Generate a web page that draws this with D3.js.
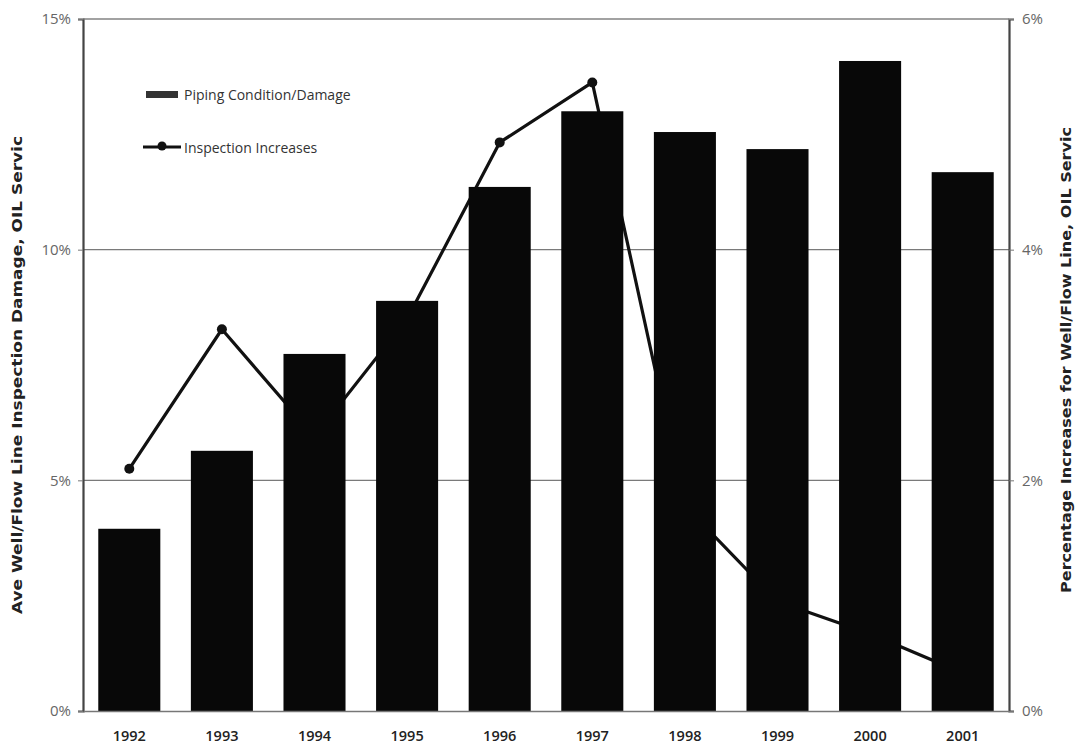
<!DOCTYPE html>
<html>
<head>
<meta charset="utf-8">
<script src="https://cdn.jsdelivr.net/npm/d3@7"></script>
<style>
  html, body { margin: 0; padding: 0; background: #fff; }
  svg { display: block; }
</style>
</head>
<body>
<svg id="chart" width="1076" height="751"></svg>
<script>
const years = ["1992","1993","1994","1995","1996","1997","1998","1999","2000","2001"];
const damageValues = [3.95, 5.64, 7.74, 8.89, 11.36, 13.0, 12.55, 12.18, 14.09, 11.68];
const inspectionValues = [2.10, 3.31, 2.38, 3.40, 4.93, 5.45, 1.78, 0.95, 0.67, 0.33];
const leftTicks = [0, 5, 10, 15];
const rightTicks = [0, 2, 4, 6];
const legendLabels = ["Piping Condition/Damage", "Inspection Increases"];
const leftTitle = "Ave Well/Flow Line Inspection Damage, OIL Servic";
const rightTitle = "Percentage Increases for Well/Flow Line, OIL Servic";

const svg = d3.select("#chart");
const m = { left: 83, right: 1009, top: 19, bottom: 711 };
const font = "'Open Sans', 'DejaVu Sans', sans-serif";

const x = d3.scaleBand().domain(years).range([m.left, m.right]).paddingInner(0.33).paddingOuter(0.165);
const yL = d3.scaleLinear().domain([0, 15]).range([m.bottom, m.top]);
const yR = d3.scaleLinear().domain([0, 6]).range([m.bottom, m.top]);

// gridlines
svg.append("g").selectAll("line").data(leftTicks.filter(d => d > 0)).join("line")
  .attr("x1", m.left).attr("x2", m.right)
  .attr("y1", d => yL(d)).attr("y2", d => yL(d))
  .attr("stroke", "#7a7a7a").attr("stroke-width", 1.2);

// line series (behind bars)
const line = d3.line().x((d, i) => x(years[i]) + x.bandwidth() / 2).y(d => yR(d));
svg.append("path").datum(inspectionValues)
  .attr("d", line).attr("fill", "none").attr("stroke", "#111").attr("stroke-width", 3.2)
  .attr("stroke-linejoin", "round");
svg.append("g").selectAll("circle").data(inspectionValues).join("circle")
  .attr("cx", (d, i) => x(years[i]) + x.bandwidth() / 2)
  .attr("cy", d => yR(d)).attr("r", 5).attr("fill", "#111");

// bars
svg.append("g").selectAll("rect").data(damageValues).join("rect")
  .attr("x", (d, i) => x(years[i]))
  .attr("width", x.bandwidth())
  .attr("y", d => yL(d))
  .attr("height", d => yL(0) - yL(d))
  .attr("fill", "#080808");

// left axis
const leftAxis = d3.axisLeft(yL).tickValues(leftTicks).tickFormat(d => d + "%").tickSize(5).tickPadding(7);
const gL = svg.append("g").attr("transform", `translate(${m.left},0)`).call(leftAxis);
gL.select(".domain").attr("stroke", "#444").attr("stroke-width", 2.2);
gL.selectAll(".tick line").attr("stroke", "#777");
gL.selectAll("text").attr("fill", "#666").attr("font-family", font).attr("font-size", 15);

// right axis
const rightAxis = d3.axisRight(yR).tickValues(rightTicks).tickFormat(d => d + "%").tickSize(5).tickPadding(8);
const gR = svg.append("g").attr("transform", `translate(${m.right},0)`).call(rightAxis);
gR.select(".domain").attr("stroke", "#444").attr("stroke-width", 2.2);
gR.selectAll(".tick line").attr("stroke", "#777");
gR.selectAll("text").attr("fill", "#666").attr("font-family", font).attr("font-size", 15);

// bottom axis
const bottomAxis = d3.axisBottom(x).tickSize(0).tickPadding(20);
const gB = svg.append("g").attr("transform", `translate(0,${m.bottom})`).call(bottomAxis);
gB.select(".domain").attr("stroke", "#777").attr("stroke-width", 1.5);
gB.selectAll("text").attr("fill", "#222").attr("font-family", font).attr("font-size", 14.5).attr("font-weight", 600);

// top border line
svg.append("line").attr("x1", m.left).attr("x2", m.right).attr("y1", yL(15)).attr("y2", yL(15))
  .attr("stroke", "#888").attr("stroke-width", 1.2);

// axis titles
svg.append("text").attr("transform", "translate(22,375) rotate(-90)")
  .attr("text-anchor", "middle").attr("font-family", "'DejaVu Sans', sans-serif")
  .attr("font-weight", "bold").attr("font-size", 13.5).attr("fill", "#222")
  .attr("textLength", 478).attr("lengthAdjust", "spacingAndGlyphs")
  .text(leftTitle);
svg.append("text").attr("transform", "translate(1071,360) rotate(-90)")
  .attr("text-anchor", "middle").attr("font-family", "'DejaVu Sans', sans-serif")
  .attr("font-weight", "bold").attr("font-size", 13.5).attr("fill", "#222")
  .attr("textLength", 466).attr("lengthAdjust", "spacingAndGlyphs")
  .text(rightTitle);

// legend
const lg = svg.append("g");
lg.append("rect").attr("x", 146).attr("y", 91).attr("width", 32).attr("height", 7).attr("fill", "#333");
lg.append("text").attr("x", 184).attr("y", 100).attr("font-family", font).attr("font-size", 14)
  .attr("fill", "#333").text(legendLabels[0]);
lg.append("line").attr("x1", 143).attr("x2", 181).attr("y1", 147).attr("y2", 147)
  .attr("stroke", "#111").attr("stroke-width", 3);
lg.append("circle").attr("cx", 162).attr("cy", 146).attr("r", 4.5).attr("fill", "#111");
lg.append("text").attr("x", 184).attr("y", 153).attr("font-family", font).attr("font-size", 14)
  .attr("fill", "#333").text(legendLabels[1]);
</script>
</body>
</html>
